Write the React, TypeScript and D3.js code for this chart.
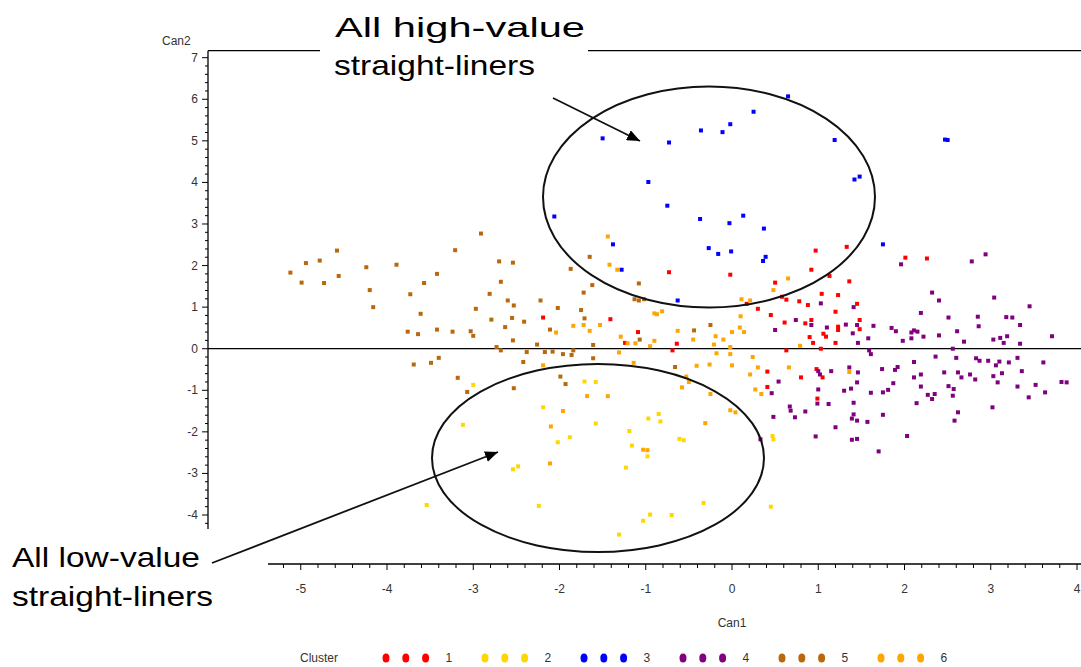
import React from "react";
import * as d3 from "d3";

type Pt = [number, number];

// Cluster 1 (red)
const cluster1: Pt[] = [
  [0.97, 2.36], [1.33, 2.45], [0.92, 1.9], [1.13, 1.75], [1.36, 1.62], [0.5, 1.59], [-0.73, 1.84], [-0.02, 1.78],
  [0.58, 1.25], [0.63, 1.18], [0.17, 1.08], [0.3, 0.96], [1.04, 1.32], [1.23, 1.29], [0.78, 1.14], [0.88, 1.05],
  [1.45, 1.08], [-2.19, 0.75], [-1.41, 0.71], [0.45, 0.81], [0.61, 0.63], [0.85, 0.61], [0.92, 0.69], [1.2, 0.89],
  [1.23, 0.45], [1.06, 0.36], [1.09, 0.29], [0.9, 0.28], [0.94, 0.14], [1.2, 0.14], [-1.09, 0.4], [-1.24, 0.14],
  [-0.64, 0.12], [-0.69, -0.04], [0.63, -0.04], [1.03, 0.0], [0.98, -0.49], [1.05, -0.69], [0.41, -0.55],
  [0.8, -0.69], [0.41, -0.92], [0.99, -1.2], [2.01, 2.19], [2.26, 2.17], [1.48, 0.69], [1.23, 0.53], [1.48, 0.47],
];

// Cluster 2 (yellow)
const cluster2: Pt[] = [
  [-1.71, -0.79], [-1.58, -0.8], [-2.19, -1.41], [-0.85, -1.57], [-0.97, -1.68], [-0.83, -1.75], [-1.58, -1.8],
  [-3.0, -0.87], [-3.12, -1.83], [-1.88, -2.13], [-2.02, -2.25], [-1.19, -1.98], [-1.16, -2.33], [-0.98, -2.59],
  [-1.23, -2.86], [-0.61, -2.17], [-0.56, -2.2], [-2.48, -2.83], [-2.54, -2.9], [-3.54, -3.76], [-2.24, -3.78],
  [-0.33, -3.71], [-0.95, -3.99], [-0.7, -4.0], [-1.03, -4.14], [-1.31, -4.47], [0.45, -3.8], [0.47, -2.1],
  [0.48, -2.18],
];

// Cluster 3 (blue)
const cluster3: Pt[] = [
  [0.65, 6.07], [0.25, 5.7], [-0.02, 5.4], [-0.36, 5.25], [-0.11, 5.21], [-1.5, 5.06], [-0.73, 4.96], [1.19, 5.02],
  [-0.97, 4.01], [1.48, 4.14], [1.42, 4.07], [-0.75, 3.44], [-2.06, 3.18], [-0.37, 3.12], [-0.03, 3.02], [0.13, 3.2],
  [0.37, 2.89], [-1.38, 2.51], [-0.27, 2.42], [-0.16, 2.28], [-0.01, 2.34], [0.39, 2.21], [0.36, 2.11], [1.75, 2.51],
  [-1.28, 1.9], [-0.63, 1.16], [2.47, 5.03], [2.5, 5.02],
];

// Cluster 4 (purple)
const cluster4: Pt[] = [
  [1.03, 1.09], [1.41, 1.0], [0.74, 0.69], [0.5, 0.45], [0.92, 0.57], [1.1, 0.51], [1.0, -0.54], [1.15, -0.54],
  [1.02, -0.62], [0.54, -0.79], [0.46, -1.07], [1.0, -0.98], [0.99, -1.32], [1.12, -1.33], [0.67, -1.39], [0.68, -1.49],
  [0.85, -1.51], [0.48, -1.64], [0.73, -1.65], [1.2, -1.89], [2.94, 2.27], [2.78, 2.1], [1.96, 2.03], [2.32, 1.35],
  [3.04, 1.23], [2.4, 1.16], [3.45, 1.02], [2.19, 0.86], [2.51, 0.75], [2.85, 0.77], [3.18, 0.76], [3.25, 0.75],
  [1.32, 0.58], [1.45, 0.57], [1.64, 0.55], [1.85, 0.5], [1.9, 0.42], [2.08, 0.39], [2.11, 0.44], [2.15, 0.41],
  [2.61, 0.42], [2.86, 0.54], [3.34, 0.57], [1.4, 0.37], [1.58, 0.25], [1.98, 0.19], [2.08, 0.25], [2.22, 0.29],
  [2.4, 0.32], [2.69, 0.17], [3.03, 0.22], [3.11, 0.26], [3.15, 0.14], [3.19, 0.3], [3.34, 0.12], [3.71, 0.3],
  [1.46, 0.14], [1.59, -0.04], [1.61, -0.13], [2.56, 0.0], [2.36, -0.19], [2.6, -0.22], [2.83, -0.23], [2.87, -0.29],
  [2.97, -0.29], [3.1, -0.31], [3.31, -0.22], [3.21, -0.33], [3.06, -0.4], [3.61, -0.33], [2.11, -0.32], [1.36, -0.45],
  [1.46, -0.57], [1.74, -0.49], [1.92, -0.44], [1.89, -0.51], [2.19, -0.62], [2.46, -0.57], [2.62, -0.57], [2.76, -0.62],
  [2.66, -0.69], [2.82, -0.74], [3.03, -0.66], [3.13, -0.59], [3.36, -0.54], [2.11, -0.69], [1.45, -0.81], [1.87, -0.83],
  [2.19, -0.91], [2.51, -0.9], [2.57, -0.97], [3.08, -0.81], [3.31, -0.91], [3.52, -0.87], [3.82, -0.8], [3.88, -0.81],
  [3.63, -1.05], [3.44, -1.17], [1.38, -0.96], [1.3, -1.01], [1.61, -1.06], [1.75, -1.05], [1.81, -0.99], [2.27, -1.11],
  [2.35, -1.09], [2.32, -1.21], [2.56, -1.13], [2.14, -1.31], [1.41, -1.3], [3.02, -1.41], [2.62, -1.53], [1.41, -1.58],
  [1.39, -1.68], [1.75, -1.59], [1.45, -1.73], [1.57, -1.76], [2.58, -1.73], [0.97, -2.11], [1.39, -2.19], [1.45, -2.17],
  [2.03, -2.1], [0.33, -2.18], [1.7, -2.47],
];

// Cluster 5 (brown)
const cluster5: Pt[] = [
  [-2.91, 2.77], [-3.21, 2.37], [-4.58, 2.36], [-4.94, 2.06], [-4.78, 2.12], [-3.89, 2.02], [-4.24, 1.96], [-2.7, 2.1],
  [-2.54, 2.07], [-5.12, 1.83], [-4.99, 1.59], [-4.73, 1.58], [-4.56, 1.75], [-3.42, 1.8], [-3.57, 1.58], [-2.68, 1.61],
  [-4.2, 1.41], [-3.73, 1.31], [-2.81, 1.32], [-2.6, 1.16], [-2.53, 1.04], [-2.22, 1.16], [-2.02, 0.98], [-4.16, 1.0],
  [-2.97, 0.96], [-3.61, 0.84], [-2.79, 0.7], [-2.55, 0.74], [-2.41, 0.65], [-2.63, 0.52], [-2.11, 0.46], [-3.76, 0.41],
  [-3.64, 0.35], [-3.42, 0.46], [-3.24, 0.41], [-3.03, 0.42], [-3.0, 0.31], [-2.54, 0.2], [-2.73, 0.04], [-2.68, -0.04],
  [-2.26, 0.1], [-2.38, -0.08], [-2.17, -0.08], [-2.08, -0.07], [-1.96, -0.13], [-3.69, -0.38], [-3.49, -0.34],
  [-3.4, -0.22], [-2.42, -0.32], [-3.18, -0.7], [-1.93, -0.85], [-1.99, -0.67], [-2.53, -0.95], [-3.07, -1.04],
  [-1.65, 2.21], [-1.87, 1.92], [-1.08, 1.57], [-1.62, 1.53], [-1.72, 1.35], [-1.13, 1.19], [-1.08, 1.16], [-1.02, 1.19],
  [-1.75, 0.93], [-1.71, 0.73], [-0.44, 0.44], [-0.25, 0.57], [-1.07, 0.22], [-1.61, 0.09], [-1.84, -0.04],
  [-1.86, -0.15], [-1.61, -0.23], [-0.66, -0.44],
];

// Cluster 6 (orange)
const cluster6: Pt[] = [
  [-1.44, 2.7], [-1.42, 2.02], [-1.33, 1.9], [0.65, 1.69], [0.48, 1.41], [0.11, 1.19], [0.21, 1.16], [-0.9, 0.85],
  [-0.87, 0.83], [-0.81, 0.9], [0.1, 0.78], [-1.84, 0.55], [-1.72, 0.57], [-1.53, 0.57], [0.09, 0.51], [-1.65, 0.43],
  [-2.04, 0.39], [-0.63, 0.43], [0.0, 0.4], [0.14, 0.4], [-1.29, 0.29], [-0.9, 0.19], [-0.19, 0.3], [-0.1, 0.22],
  [-0.45, 0.22], [-1.12, 0.13], [-1.21, 0.13], [-0.95, 0.06], [-0.21, 0.1], [-0.02, 0.04], [-1.31, -0.09],
  [-0.18, -0.11], [-0.02, -0.13], [0.24, -0.2], [0.79, 0.07], [-2.19, -0.4], [-0.41, -0.41], [-0.26, -0.38],
  [0.0, -0.4], [0.3, -0.45], [0.66, -0.45], [-1.14, -0.34], [0.21, -0.62], [-0.53, -0.67], [-0.5, -0.8],
  [-0.58, -0.93], [0.27, -0.98], [0.34, -1.09], [-0.25, -1.09], [-1.68, -1.14], [-1.44, -1.14], [-1.96, -1.5],
  [-0.02, -1.48], [0.04, -1.53], [-0.31, -1.79], [-2.1, -1.87], [-2.11, -2.76], [-1.03, -2.43], [-0.98, -2.44],
  [1.36, -0.56],
];

const clusterLabels = ["1", "2", "3", "4", "5", "6"];
const clusterData = [cluster1, cluster2, cluster3, cluster4, cluster5, cluster6];
const clusterColors = ["#FF0000", "#FFD700", "#0000FF", "#800080", "#B8680E", "#FFA500"];

const xTickLabels = [-5, -4, -3, -2, -1, 0, 1, 2, 3, 4];
const yTickLabels = [-4, -3, -2, -1, 0, 1, 2, 3, 4, 5, 6, 7];

const W = 1081;
const H = 667;

export default function App() {
  const x = d3.scaleLinear().domain([-5, 4]).range([300.75, 1077]);
  const y = d3.scaleLinear().domain([-4, 7]).range([515, 57.7]);
  const yAxisX = 208;
  const xAxisY = 564;
  const topY = 50.7;
  const xMin = x.invert(268);
  const yMin = y.invert(529);
  const yMax = y.invert(topY);

  const xMinor = d3.range(-26, 21).map((i) => i * 0.2).filter((v) => v >= xMin && Math.abs(v - Math.round(v)) > 1e-6);
  const yMinor = d3.range(-22, 37).map((i) => i * 0.2).filter((v) => v >= yMin && v <= yMax && Math.abs(v - Math.round(v)) > 1e-6);

  const font = "'Liberation Sans', Arial, sans-serif";
  const tickFill = "#333";

  const legendStart = 386;
  const groupStep = 99;
  const dotStep = 19.8;
  const legendY = 658;

  return (
    <svg width={W} height={H} style={{ position: "absolute", left: 0, top: 0, background: "#fff" }}>
      <rect x={0} y={0} width={W} height={H} fill="#fff" />
      {/* frame top line and zero reference line */}
      <line x1={yAxisX} x2={W} y1={topY} y2={topY} stroke="#000" strokeWidth={1.3} />
      <line x1={yAxisX} x2={W} y1={y(0)} y2={y(0)} stroke="#000" strokeWidth={1.3} />
      {/* y axis */}
      <line x1={yAxisX} x2={yAxisX} y1={topY} y2={y(yMin)} stroke="#000" strokeWidth={1.3} />
      {yTickLabels.map((v) => (
        <g key={"yt" + v}>
          <line x1={yAxisX - 6} x2={yAxisX} y1={y(v)} y2={y(v)} stroke="#000" />
          <text x={yAxisX - 10} y={y(v) + 4} textAnchor="end" fontSize={12} fontFamily={font} fill={tickFill}>
            {v}
          </text>
        </g>
      ))}
      {yMinor.map((v) => (
        <line key={"ym" + v} x1={yAxisX - 3} x2={yAxisX} y1={y(v)} y2={y(v)} stroke="#000" />
      ))}
      <text x={162} y={45} fontSize={12} fontFamily={font} fill={tickFill}>
        Can2
      </text>
      {/* x axis */}
      <line x1={268} x2={W} y1={xAxisY} y2={xAxisY} stroke="#000" strokeWidth={1.3} />
      {xTickLabels.map((v) => (
        <g key={"xt" + v}>
          <line x1={x(v)} x2={x(v)} y1={xAxisY} y2={xAxisY + 6} stroke="#000" />
          <text x={x(v)} y={xAxisY + 29} textAnchor="middle" fontSize={12} fontFamily={font} fill={tickFill}>
            {v}
          </text>
        </g>
      ))}
      {xMinor.map((v) => (
        <line key={"xm" + v} x1={x(v)} x2={x(v)} y1={xAxisY} y2={xAxisY + 4} stroke="#000" />
      ))}
      <text x={x(0)} y={627} textAnchor="middle" fontSize={12} fontFamily={font} fill={tickFill}>
        Can1
      </text>

      {/* points */}
      {clusterData.map((pts, ci) =>
        pts.map((p, i) => (
          <rect
            key={ci + "-" + i}
            x={x(p[0]) - 2}
            y={y(p[1]) - 2}
            width={4}
            height={4}
            fill={clusterColors[ci]}
          />
        ))
      )}

      {/* ellipses */}
      <ellipse cx={709} cy={197} rx={166} ry={110.5} fill="none" stroke="#111" strokeWidth={2} />
      <ellipse cx={598} cy={458} rx={166} ry={94} fill="none" stroke="#111" strokeWidth={2} />

      {/* arrows */}
      <defs>
        <marker id="ah" viewBox="0 0 13 11" refX={13} refY={5.5} markerWidth={13} markerHeight={11} markerUnits="userSpaceOnUse" orient="auto">
          <path d="M0,0 L13,5.5 L0,11 Z" fill="#000" />
        </marker>
      </defs>
      <line x1={553} y1={98} x2={640} y2={141} stroke="#111" strokeWidth={1.8} markerEnd="url(#ah)" />
      <line x1={212} y1={563} x2={498} y2={452} stroke="#111" strokeWidth={1.8} markerEnd="url(#ah)" />

      {/* annotation texts */}
      <rect x={320} y={0} width={268} height={82} fill="#fff" />
      <text x={335} y={37} fontSize={28} fontFamily={font} fill="#000" textLength={250} lengthAdjust="spacingAndGlyphs">
        All high-value
      </text>
      <text x={334} y={75} fontSize={28} fontFamily={font} fill="#000" textLength={201} lengthAdjust="spacingAndGlyphs">
        straight-liners
      </text>
      <text x={12} y={567} fontSize={28} fontFamily={font} fill="#000" textLength={188} lengthAdjust="spacingAndGlyphs">
        All low-value
      </text>
      <text x={12} y={606} fontSize={28} fontFamily={font} fill="#000" textLength={201} lengthAdjust="spacingAndGlyphs">
        straight-liners
      </text>

      {/* legend */}
      <text x={300} y={legendY + 4} fontSize={12} fontFamily={font} fill={tickFill}>
        Cluster
      </text>
      {clusterLabels.map((lab, ci) => {
        const gx = legendStart + ci * groupStep;
        return (
          <g key={"lg" + lab}>
            {[0, 1, 2].map((k) => (
              <ellipse key={k} cx={gx + k * dotStep} cy={legendY} rx={3.5} ry={4.5} fill={clusterColors[ci]} />
            ))}
            <text x={gx + 2 * dotStep + 20} y={legendY + 4} fontSize={12} fontFamily={font} fill={tickFill}>
              {lab}
            </text>
          </g>
        );
      })}
    </svg>
  );
}
